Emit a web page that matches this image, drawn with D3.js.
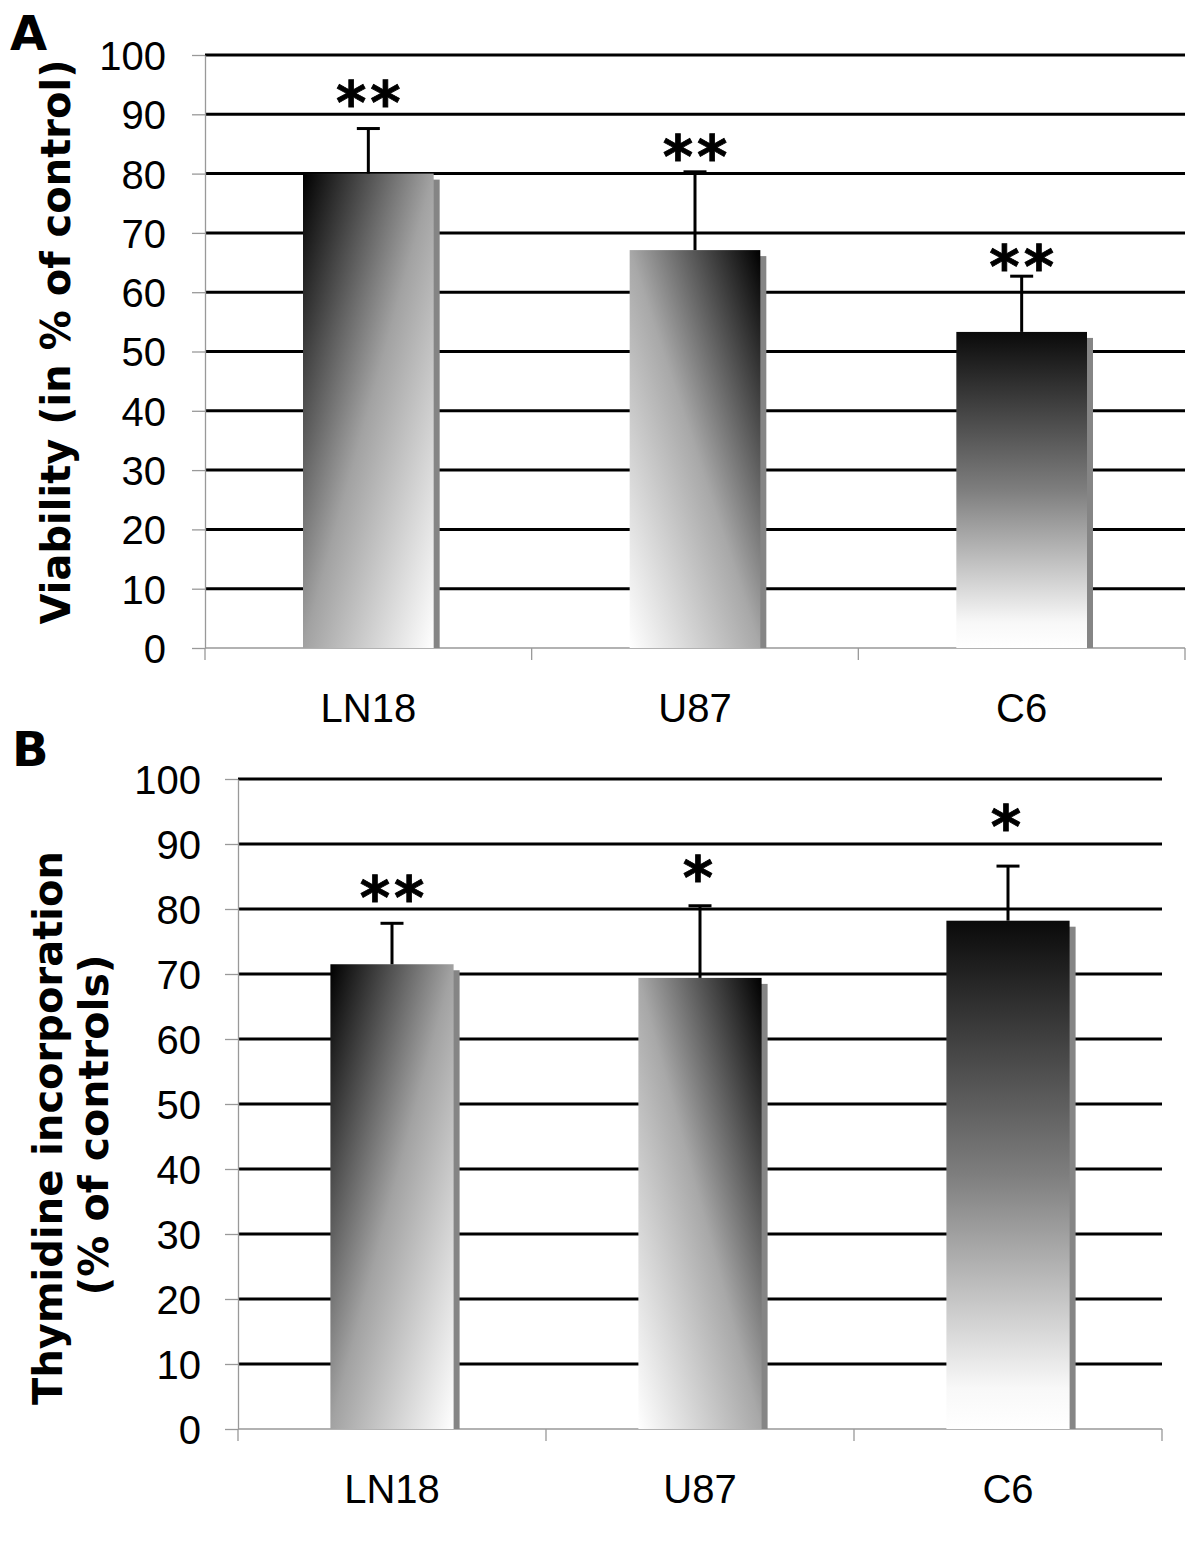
<!DOCTYPE html>
<html>
<head>
<meta charset="utf-8">
<script src="https://cdn.jsdelivr.net/npm/d3@7"></script>
<style>
  html, body { margin: 0; padding: 0; background: #fff; }
  svg { display: block; }
</style>
</head>
<body>
<svg id="chart" width="1200" height="1543"></svg>
<script>
// ---- data ----
const categories = ["LN18", "U87", "C6"];
const yTicks = [0, 10, 20, 30, 40, 50, 60, 70, 80, 90, 100];

const viability = [80.0, 67.1, 53.3];
const viabilityErr = [7.6, 13.2, 9.4];
const viabilitySig = ["**", "**", "**"];
const viabilitySigLevel = [93.6, 84.5, 65.9];

const thymidine = [71.5, 69.4, 78.2];
const thymidineErr = [6.3, 11.1, 8.4];
const thymidineSig = ["**", "*", "*"];
const thymidineSigLevel = [83.2, 86.3, 94.2];

// ---- drawing ----
const svg = d3.select("#chart");
const FONT = "'Liberation Sans', Arial, sans-serif";
const BOLD = "'DejaVu Sans', Verdana, sans-serif";

const defs = svg.append("defs");
// gradient styles: diagonal dark TL, diagonal dark TR, vertical dark top
const gradSpecs = [
  {id: "g0", x1: 0, y1: 0, x2: 1, y2: 1, stops: [[0, "#000"], [0.5, "#a2a2a2"], [1, "#fff"]]},
  {id: "g1", x1: 1, y1: 0, x2: 0, y2: 1, stops: [[0, "#000"], [0.5, "#a8a8a8"], [1, "#fff"]]},
  {id: "g2", x1: 0, y1: 0, x2: 0, y2: 1, stops: [[0, "#0a0a0a"], [0.5, "#7e7e7e"], [0.92, "#f8f8f8"], [1, "#fff"]]}
];
gradSpecs.forEach(g => {
  const lg = defs.append("linearGradient").attr("id", g.id)
    .attr("x1", g.x1).attr("y1", g.y1).attr("x2", g.x2).attr("y2", g.y2);
  g.stops.forEach(s => lg.append("stop").attr("offset", s[0]).attr("stop-color", s[1]));
});

function panel(cfg) {
  const g = svg.append("g");
  const x = d3.scaleBand().domain(categories)
    .range([cfg.left, cfg.right]).paddingInner(0.6).paddingOuter(0.3);
  const y = d3.scaleLinear().domain([0, 100]).range([cfg.bottom, cfg.top]);

  // gridlines
  g.selectAll(".grid").data(yTicks.filter(t => t > 0)).enter().append("line")
    .attr("x1", cfg.left).attr("x2", cfg.right)
    .attr("y1", d => y(d)).attr("y2", d => y(d))
    .attr("stroke", "#000").attr("stroke-width", 3);

  // y axis
  const ya = g.append("g").attr("transform", `translate(${cfg.left},0)`)
    .call(d3.axisLeft(y).tickValues(yTicks).tickSize(13).tickSizeOuter(0).tickPadding(cfg.tickPad));
  ya.select(".domain").attr("stroke", "#999").attr("stroke-width", 1.3);
  ya.selectAll(".tick line").attr("stroke", "#999").attr("stroke-width", 1.3);
  ya.selectAll(".tick text").attr("font-family", FONT).attr("font-size", 40)
    .attr("fill", "#000").attr("dy", "0.36em");

  // x axis baseline + boundary ticks
  g.append("line").attr("x1", cfg.left).attr("x2", cfg.right)
    .attr("y1", cfg.bottom).attr("y2", cfg.bottom)
    .attr("stroke", "#999").attr("stroke-width", 1.3);
  const bounds = d3.range(categories.length + 1).map(i => cfg.left + i * x.step());
  g.selectAll(".xt").data(bounds).enter().append("line")
    .attr("x1", d => d).attr("x2", d => d)
    .attr("y1", cfg.bottom).attr("y2", cfg.bottom + 12)
    .attr("stroke", "#999").attr("stroke-width", 1.3);
  g.selectAll(".xl").data(categories).enter().append("text")
    .attr("x", d => x(d) + x.bandwidth() / 2).attr("y", cfg.bottom + 74)
    .attr("text-anchor", "middle").attr("font-family", FONT).attr("font-size", 40)
    .text(d => d);

  // shadows
  const sh = 6;
  g.selectAll(".shadow").data(categories).enter().append("rect")
    .attr("x", d => x(d) + sh).attr("width", x.bandwidth())
    .attr("y", (d, i) => y(cfg.values[i]) + sh)
    .attr("height", (d, i) => cfg.bottom - y(cfg.values[i]) - sh)
    .attr("fill", "#858585");
  // bars
  g.selectAll(".bar").data(categories).enter().append("rect")
    .attr("x", d => x(d)).attr("width", x.bandwidth())
    .attr("y", (d, i) => y(cfg.values[i]))
    .attr("height", (d, i) => cfg.bottom - y(cfg.values[i]))
    .attr("fill", (d, i) => `url(#g${i})`);

  // error bars
  categories.forEach((c, i) => {
    const cx = x(c) + x.bandwidth() / 2;
    const v = cfg.values[i], e = cfg.errs[i];
    g.append("line").attr("x1", cx).attr("x2", cx)
      .attr("y1", y(v)).attr("y2", y(v + e))
      .attr("stroke", "#000").attr("stroke-width", 3);
    g.append("line").attr("x1", cx - 11.5).attr("x2", cx + 11.5)
      .attr("y1", y(v + e)).attr("y2", y(v + e))
      .attr("stroke", "#000").attr("stroke-width", 3);
    g.append("text").attr("x", cx).attr("y", y(cfg.sigLevel[i]) + 30)
      .attr("dx", cfg.sig[i].length > 1 ? 2 : 0)
      .attr("text-anchor", "middle").attr("font-family", BOLD)
      .attr("font-weight", "bold").attr("font-size", 58)
      .attr("letter-spacing", 4)
      .attr("stroke", "#000").attr("stroke-width", 0.8)
      .text(cfg.sig[i]);
  });

  // panel letter
  g.append("text").attr("x", cfg.letterX).attr("y", cfg.letterY)
    .attr("font-family", BOLD).attr("font-weight", "bold").attr("font-size", 48)
    .text(cfg.letter);

  // y titles
  cfg.titles.forEach(t => {
    g.append("text")
      .attr("transform", `translate(${t.x},${t.y}) rotate(-90)`)
      .attr("text-anchor", "middle").attr("font-family", BOLD)
      .attr("font-weight", "bold").attr("font-size", t.size)
      .text(t.text);
  });
}

panel({
  left: 205, right: 1185, top: 55, bottom: 648, tickPad: 26,
  values: viability, errs: viabilityErr, sig: viabilitySig, sigLevel: viabilitySigLevel,
  letter: "A", letterX: 10, letterY: 50,
  titles: [{text: "Viability (in % of control)", x: 70, y: 342, size: 40}]
});

panel({
  left: 238, right: 1162, top: 779, bottom: 1429, tickPad: 24,
  values: thymidine, errs: thymidineErr, sig: thymidineSig, sigLevel: thymidineSigLevel,
  letter: "B", letterX: 12, letterY: 766,
  titles: [
    {text: "Thymidine incorporation", x: 62, y: 1128, size: 40},
    {text: "(% of controls)", x: 108, y: 1125, size: 41}
  ]
});
</script>
</body>
</html>
